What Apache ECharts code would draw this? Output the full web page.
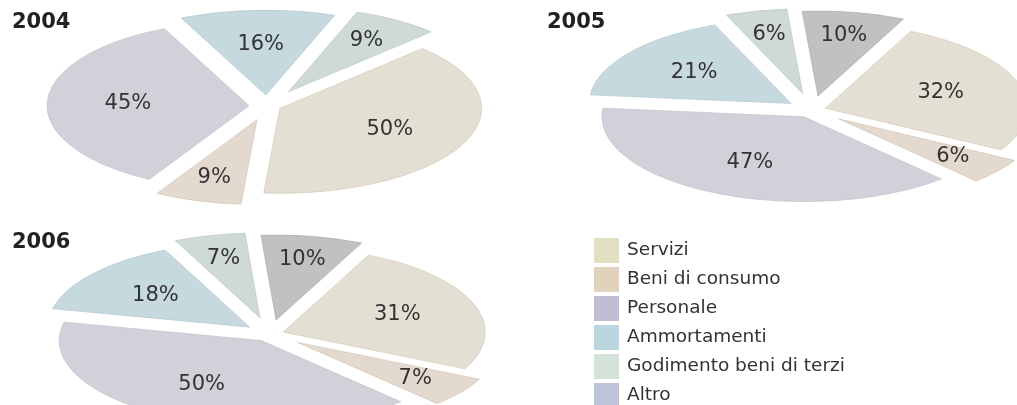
<!DOCTYPE html>
<html>
<head>
<meta charset="utf-8">
<script src="https://cdn.jsdelivr.net/npm/echarts@6/dist/echarts.min.js"></script>
<style>
html,body{margin:0;padding:0;background:#fff;}
#chart{width:1017px;height:405px;}
</style>
</head>
<body>
<div id="chart"></div>
<script>
// ---- data ----
const categories = ['Servizi', 'Beni di consumo', 'Personale', 'Ammortamenti', 'Godimento beni di terzi', 'Altro'];
const years = ['2004', '2005', '2006'];
const values2004 = [50, 9, 45, 16, 9, null];
const values2005 = [32, 6, 47, 21, 6, 10];
const values2006 = [31, 7, 50, 18, 7, 10];
const valuesByYear = [values2004, values2005, values2006];

// ---- layout & style ----
const pieLayout = [
  { cx: 267, cy: 106, start: 45 },
  { cx: 812, cy: 110, start: 65 },
  { cx: 270, cy: 334, start: 65 }
];
const R = 202;          // radius (horizontal)
const K = 0.42;         // vertical squash (perspective)
const explode = [14, 34, 18, 26, 40, 34];
const legendColors = ['#e2dfc2', '#e0d2bc', '#c3bdd4', '#bcd6e0', '#d4e3da', '#bdc3d8'];
const sliceColors = ['#e4dfd3', '#e3d9cf', '#d2d1d9', '#c6d9de', '#cfdad5', '#c1c1c1'];
const sliceStrokes = ['#d6ccb9', '#d5c6b8', '#c3c1cc', '#b4c9cf', '#bccabf', '#a9a9a9'];
const FONT = '"DejaVu Sans", Verdana, sans-serif';

// angles computed from the values (clockwise from start angle)
const geom = valuesByYear.map((vals, yi) => {
  const total = vals.reduce((s, v) => s + (v || 0), 0);
  let a = pieLayout[yi].start;
  return vals.map(v => {
    if (v == null) return null;
    const span = v / total * 360;
    const g = { a0: a, a1: a - span, span: span };
    a -= span;
    return g;
  });
});

function renderItem(params, api) {
  const ci = params.seriesIndex;
  const yi = params.dataIndex;
  const g = geom[yi][ci];
  const v = api.value(0);
  if (!g || v == null || isNaN(v)) return null;
  const L = pieLayout[yi];
  const mid = (g.a0 + g.a1) / 2 * Math.PI / 180;
  const ex = explode[ci];
  const scx = L.cx + ex * Math.cos(mid);
  const scy = L.cy - ex * Math.sin(mid);
  const frac = g.span < 40 ? 0.72 : 0.6;
  const lr = ex + frac * R;
  const lx = L.cx + lr * Math.cos(mid);
  const ly = L.cy - lr * Math.sin(mid) * K;
  return {
    type: 'group',
    children: [
      {
        type: 'sector',
        shape: {
          cx: scx, cy: scy, r: R, r0: 0,
          startAngle: -g.a0 * Math.PI / 180,
          endAngle: -g.a1 * Math.PI / 180,
          clockwise: true
        },
        originX: L.cx, originY: L.cy, scaleY: K,
        style: { fill: sliceColors[ci], stroke: sliceStrokes[ci], lineWidth: 1, strokeNoScale: true }
      },
      {
        type: 'text',
        x: lx, y: ly,
        z2: 10,
        style: {
          text: v + '%',
          fill: '#333',
          font: '21px ' + FONT,
          align: 'center', verticalAlign: 'middle',
          textAlign: 'center', textVerticalAlign: 'middle'
        }
      }
    ]
  };
}

const series = categories.map((name, ci) => ({
  name: name,
  type: 'custom',
  coordinateSystem: 'none',
  renderItem: renderItem,
  itemStyle: { color: legendColors[ci] },
  silent: true,
  animation: false,
  data: valuesByYear.map(vals => [vals[ci] == null ? NaN : vals[ci]])
}));

const titleStyle = { fontSize: 21, fontWeight: 'bold', color: '#222', fontFamily: FONT };
const option = {
  backgroundColor: '#fff',
  animation: false,
  title: [
    { text: years[0], left: 12, top: 12, textStyle: titleStyle, padding: 0 },
    { text: years[1], left: 547, top: 12, textStyle: titleStyle, padding: 0 },
    { text: years[2], left: 12, top: 232, textStyle: titleStyle, padding: 0 }
  ],
  legend: {
    data: categories,
    orient: 'vertical',
    left: 594, top: 238, height: 200,
    padding: 0,
    itemWidth: 25, itemHeight: 25, itemGap: 4,
    icon: 'rect',
    selectedMode: false,
    textStyle: { fontSize: 18.5, color: '#333', fontFamily: FONT, padding: [0, 0, 0, 3] }
  },
  series: series
};

const chart = echarts.init(document.getElementById('chart'), null, { renderer: 'canvas' });
chart.setOption(option);
</script>
</body>
</html>
